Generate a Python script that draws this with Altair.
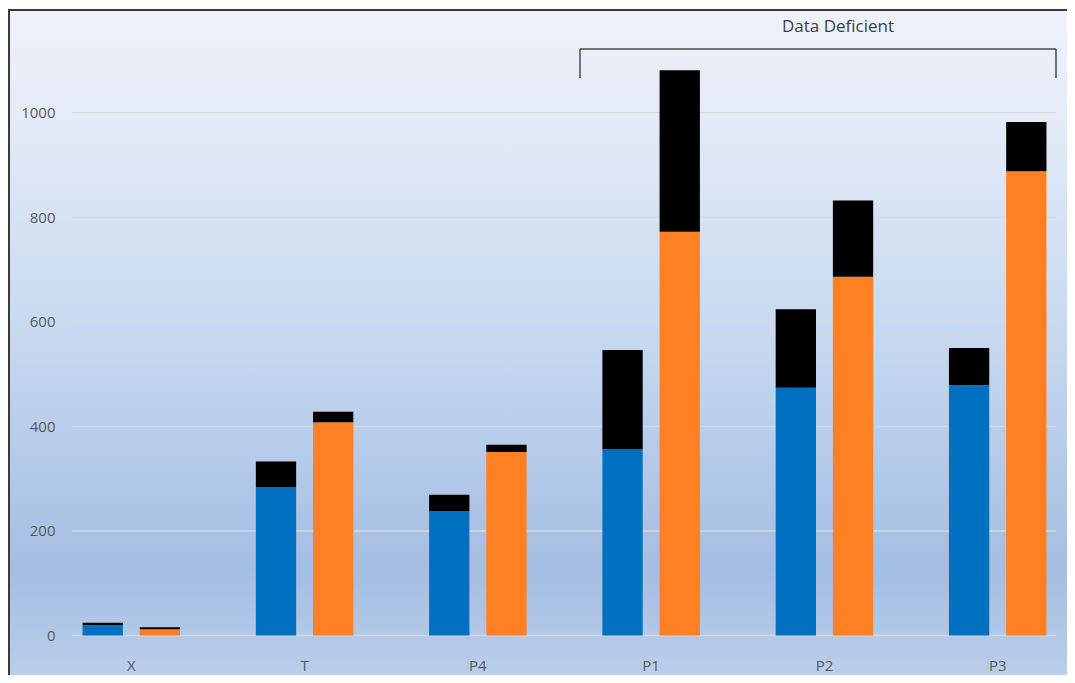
import altair as alt
import pandas as pd

# ---- data ----
categories = ["X", "T", "P4", "P1", "P2", "P3"]
blue_base = [20, 284, 238, 356, 474, 479]
blue_top = [4.5, 49, 31, 190, 150, 71]
orange_base = [12, 408, 351, 772, 686, 888]
orange_top = [4, 20, 14, 309, 146, 94]
y_ticks = [0, 200, 400, 600, 800, 1000]
bracket_label = ["Data Deficient"]

rows = []
for i, c in enumerate(categories):
    rows.append(dict(cat=c, series="A", seg="A-base", part=0, value=blue_base[i]))
    rows.append(dict(cat=c, series="A", seg="A-top", part=1, value=blue_top[i]))
    rows.append(dict(cat=c, series="B", seg="B-base", part=0, value=orange_base[i]))
    rows.append(dict(cat=c, series="B", seg="B-top", part=1, value=orange_top[i]))
df = pd.DataFrame(rows)

W, H = 1059, 667
FONT = "Open Sans"
LABEL = "#595959"

yscale = alt.Scale(domain=[-75.5, 1200], nice=False, zero=False)
yaxis = alt.Axis(
    title=None, values=y_ticks, format="d", domain=False, ticks=False, grid=False,
    labelPadding=0, offset=-47, labelFont=FONT, labelFontSize=15,
    labelColor=LABEL, zindex=1,
)

one = pd.DataFrame({"a": [0]})

gradient = alt.LinearGradient(
    gradient="linear",
    stops=[
        alt.GradientStop(color="#EEF1FA", offset=0),
        alt.GradientStop(color="#E5EBF7", offset=0.15),
        alt.GradientStop(color="#C6D8EF", offset=0.5),
        alt.GradientStop(color="#A4BDE2", offset=0.84),
        alt.GradientStop(color="#BACEEA", offset=1),
    ],
    x1=0, x2=0, y1=0, y2=1,
)

background = alt.Chart(one).mark_rect(fill=gradient).encode(
    x=alt.value(2), x2=alt.value(W), y=alt.value(3), y2=alt.value(H)
)

grid = alt.Chart(pd.DataFrame({"v": y_ticks})).mark_rule(
    color="#D6D9DE", strokeWidth=1.4
).encode(
    y=alt.Y("v:Q", scale=yscale, axis=yaxis),
    x=alt.value(64),
    x2=alt.value(1048),
)

bars = alt.Chart(df).mark_bar().encode(
    x=alt.X(
        "cat:N",
        sort=categories,
        scale=alt.Scale(paddingInner=0.4373, paddingOuter=0.2744, align=0.784),
        axis=alt.Axis(
            title=None, domain=False, ticks=False, labelAngle=0,
            labelPadding=0, labelBaseline="middle", offset=-10,
            labelFont=FONT, labelFontSize=15, labelColor=LABEL, zindex=1,
        ),
    ),
    xOffset=alt.XOffset("series:N", scale=alt.Scale(paddingInner=0.2955, paddingOuter=0)),
    y=alt.Y("value:Q", stack="zero", scale=yscale, axis=yaxis),
    color=alt.Color(
        "seg:N",
        scale=alt.Scale(
            domain=["A-base", "B-base", "A-top", "B-top"],
            range=["#0070C0", "#FF7F22", "#000000", "#000000"],
        ),
        legend=None,
    ),
    order=alt.Order("part:Q"),
)

border_left = alt.Chart(one).mark_rule(color="#3A3A3A", strokeWidth=2).encode(
    x=alt.value(1), y=alt.value(1), y2=alt.value(H)
)
border_top = alt.Chart(one).mark_rule(color="#3A3A3A", strokeWidth=2).encode(
    y=alt.value(2), x=alt.value(0), x2=alt.value(W)
)

bracket_h = alt.Chart(one).mark_rule(color="#4A4A4A", strokeWidth=1.5).encode(
    y=alt.datum(1121.5), x=alt.value(572), x2=alt.value(1048)
)
bracket_l = alt.Chart(one).mark_rule(color="#4A4A4A", strokeWidth=1.5).encode(
    x=alt.value(572), y=alt.datum(1121.5), y2=alt.datum(1066)
)
bracket_r = alt.Chart(one).mark_rule(color="#4A4A4A", strokeWidth=1.5).encode(
    x=alt.value(1048), y=alt.datum(1121.5), y2=alt.datum(1066)
)
bracket_text = alt.Chart(pd.DataFrame({"t": bracket_label})).mark_text(
    font=FONT, fontSize=17, color="#404040", align="center", baseline="middle"
).encode(
    text="t:N", x=alt.value(830), y=alt.datum(1163.5)
)

chart = alt.layer(
    background, grid, bars, border_left, border_top,
    bracket_h, bracket_l, bracket_r, bracket_text,
).properties(
    width=W, height=H,
    autosize=alt.AutoSizeParams(type="none"),
    padding=0,
).configure_view(strokeWidth=0)

chart.save("out.html", embed_options={"renderer": "svg", "actions": False})
